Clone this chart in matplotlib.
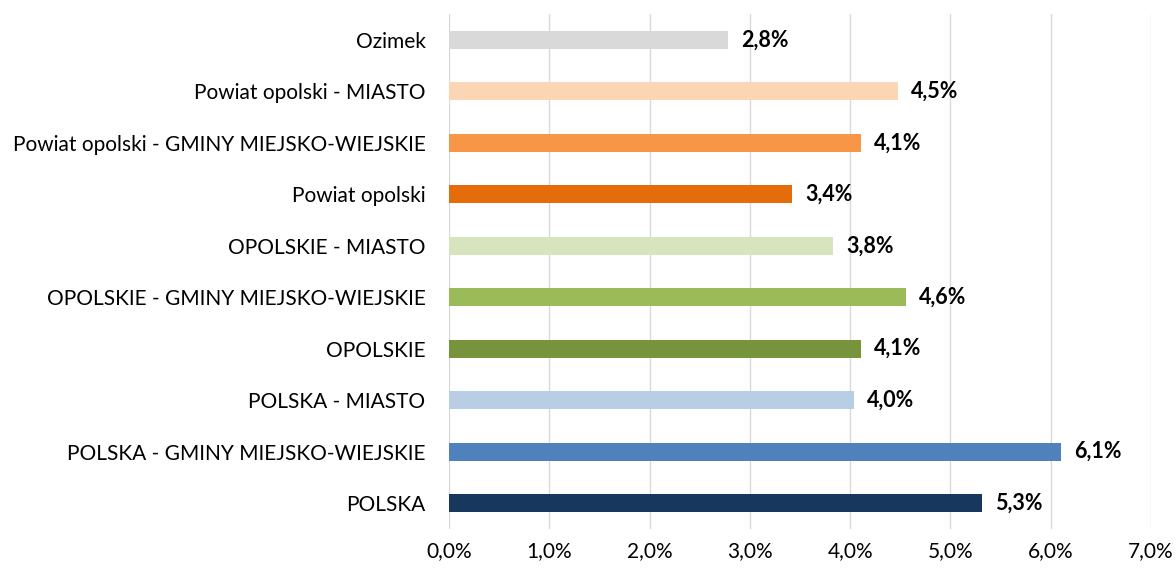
import matplotlib.pyplot as plt
from matplotlib.ticker import FuncFormatter

plt.rcParams['font.family'] = ['Lato', 'DejaVu Sans']

categories = [
    "POLSKA",
    "POLSKA - GMINY MIEJSKO-WIEJSKIE",
    "POLSKA - MIASTO",
    "OPOLSKIE",
    "OPOLSKIE - GMINY MIEJSKO-WIEJSKIE",
    "OPOLSKIE - MIASTO",
    "Powiat opolski",
    "Powiat opolski - GMINY MIEJSKO-WIEJSKIE",
    "Powiat opolski - MIASTO",
    "Ozimek",
]
values = [5.32, 6.10, 4.04, 4.11, 4.56, 3.83, 3.42, 4.11, 4.48, 2.78]
colors = ["#17375E", "#4F81BD", "#B9CDE5", "#77933C", "#9BBB59",
          "#D7E4BD", "#E46C0A", "#F79646", "#FCD5B4", "#D9D9D9"]

fig = plt.figure(figsize=(11.76, 5.71), dpi=100)
ax = fig.add_axes([0.3818, 0.0741, 0.5969, 0.9009])

ypos = range(len(categories))
ax.barh(ypos, values, height=0.35, color=colors, zorder=3)

for y, v in zip(ypos, values):
    ax.text(v + 0.13, y, f"{v:.1f}%".replace(".", ","), va="center", ha="left",
            fontsize=15.5, fontweight="bold", color="black")

ax.set_xlim(0, 7)
ax.set_ylim(-0.5, len(categories) - 0.5)
ax.set_xticks(range(0, 8))
ax.xaxis.set_major_formatter(FuncFormatter(lambda x, _: f"{x:.1f}%".replace(".", ",")))
ax.set_yticks(list(ypos))
ax.set_yticklabels(categories)
ax.grid(axis="x", color="#D9D9D9", linewidth=1, zorder=0)
for s in ax.spines.values():
    s.set_visible(False)
ax.tick_params(axis="both", length=0, labelsize=15, colors="#000000")
ax.tick_params(axis="y", pad=17)
ax.tick_params(axis="x", pad=9)

fig.savefig("out.png", dpi=100)
